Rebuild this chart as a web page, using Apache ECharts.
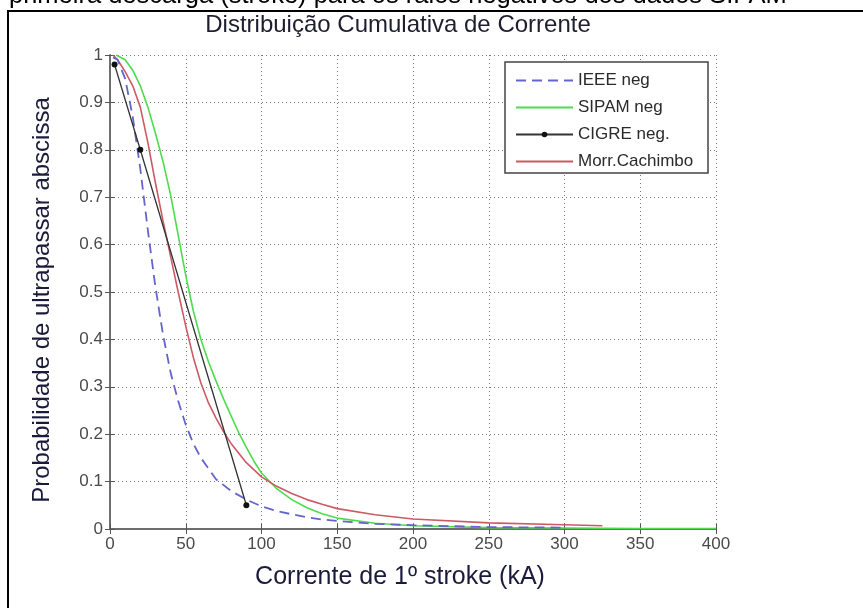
<!DOCTYPE html>
<html>
<head>
<meta charset="utf-8">
<script src="https://cdn.jsdelivr.net/npm/echarts@6/dist/echarts.min.js"></script>
<style>
html,body{margin:0;padding:0;background:#fff;}
#chart{width:863px;height:608px;}
</style>
</head>
<body>
<div id="chart"></div>
<script>
// ---- data ----
const xTicks = [0, 50, 100, 150, 200, 250, 300, 350, 400];
const seriesNames = ['IEEE neg', 'SIPAM neg', 'CIGRE neg.', 'Morr.Cachimbo'];

const ieeeI = [2, 5, 10, 15, 20, 25, 30, 35, 40, 45, 50, 55, 60, 70, 80, 90, 100, 110, 120, 130, 140, 150, 175, 200, 250, 300];
const ieeeP = [0.995, 0.99, 0.95, 0.87, 0.76, 0.63, 0.51, 0.41, 0.33, 0.27, 0.22, 0.18, 0.15, 0.105, 0.08, 0.062, 0.048, 0.038, 0.031, 0.025, 0.02, 0.017, 0.011, 0.008, 0.004, 0.003];

const sipamI = [4, 10, 15, 20, 25, 30, 35, 40, 45, 50, 55, 60, 65, 70, 75, 80, 85, 90, 95, 100, 110, 120, 130, 140, 150, 175, 200, 250, 300, 350, 400];
const sipamP = [1.0, 0.99, 0.968, 0.935, 0.89, 0.835, 0.775, 0.705, 0.62, 0.535, 0.46, 0.4, 0.353, 0.312, 0.274, 0.238, 0.203, 0.172, 0.143, 0.118, 0.085, 0.062, 0.045, 0.032, 0.023, 0.012, 0.007, 0.003, 0.002, 0.001, 0.001];

const cigreI = [3, 20, 90];
const cigreP = [0.98, 0.80, 0.05];

const morrI = [2, 5, 10, 15, 20, 25, 30, 35, 40, 45, 50, 55, 60, 65, 70, 75, 80, 90, 100, 110, 120, 130, 140, 150, 175, 200, 250, 300, 325];
const morrP = [1.0, 0.99, 0.965, 0.935, 0.89, 0.815, 0.73, 0.65, 0.575, 0.5, 0.428, 0.362, 0.308, 0.266, 0.234, 0.205, 0.18, 0.14, 0.11, 0.09, 0.075, 0.062, 0.052, 0.043, 0.03, 0.021, 0.013, 0.009, 0.007];

const pairs = (xs, ys) => xs.map((x, i) => [x, ys[i]]);

const FONT = 'Arial, "Liberation Sans", Helvetica, sans-serif';
const axisCol = '#666';

const chart = echarts.init(document.getElementById('chart'), null, {renderer: 'canvas'});

const boxAxisCommon = {
  axisLine: {show: true, lineStyle: {color: axisCol, width: 1.5}},
  axisTick: {show: true, inside: true, length: 5, lineStyle: {color: '#555', width: 1}},
};

const option = {
  backgroundColor: '#fff',
  animation: false,
  grid: {left: 110, top: 55, width: 606, height: 474, show: false},
  xAxis: [
    Object.assign({
      type: 'value', min: 0, max: 400, interval: 50, position: 'bottom',
      axisLabel: {color: '#4a4a4a', fontSize: 17, fontFamily: FONT, margin: 7},
      splitLine: {show: true, lineStyle: {type: [1, 3], color: '#777', width: 1}}
    }, boxAxisCommon),
    Object.assign({
      type: 'value', min: 0, max: 400, interval: 50, position: 'top',
      axisLabel: {show: false}, splitLine: {show: false}
    }, boxAxisCommon)
  ],
  yAxis: [
    Object.assign({
      type: 'value', min: 0, max: 1, interval: 0.1, position: 'left',
      axisLabel: {color: '#4a4a4a', fontSize: 17, fontFamily: FONT, margin: 7},
      splitLine: {show: true, lineStyle: {type: [1, 3], color: '#777', width: 1}}
    }, boxAxisCommon),
    Object.assign({
      type: 'value', min: 0, max: 1, interval: 0.1, position: 'right',
      axisLabel: {show: false}, splitLine: {show: false}
    }, boxAxisCommon)
  ],
  legend: {
    orient: 'vertical', left: 515, top: 72, padding: 0,
    itemWidth: 57, itemHeight: 7, itemGap: 10, z: 30,
    textStyle: {fontSize: 17, lineHeight: 17, color: '#2a2a2a', fontFamily: FONT},
    itemStyle: {opacity: 0},
    data: [
      {name: seriesNames[0]},
      {name: seriesNames[1]},
      {name: seriesNames[2], itemStyle: {opacity: 1}},
      {name: seriesNames[3]}
    ]
  },
  series: [
    {name: seriesNames[0], type: 'line', data: pairs(ieeeI, ieeeP), symbol: 'none',
     lineStyle: {color: '#6464cc', width: 1.8, type: [10, 6]}, itemStyle: {color: '#6464cc'}, z: 3},
    {name: seriesNames[1], type: 'line', data: pairs(sipamI, sipamP), symbol: 'none',
     lineStyle: {color: '#4cdc4c', width: 1.6}, itemStyle: {color: '#4cdc4c'}, z: 2},
    {name: seriesNames[2], type: 'line', data: pairs(cigreI, cigreP), symbol: 'circle', symbolSize: 6,
     lineStyle: {color: '#333', width: 1.3}, itemStyle: {color: '#111'}, z: 4},
    {name: seriesNames[3], type: 'line', data: pairs(morrI, morrP), symbol: 'none',
     lineStyle: {color: '#cc5a64', width: 1.6}, itemStyle: {color: '#cc5a64'}, z: 2}
  ],
  graphic: [
    // caption cut off at the top
    {type: 'text', left: 9, top: -17, z: 5,
     style: {text: 'primeira descarga (stroke) para os raios negativos dos dados SIPAM', font: '25.5px ' + FONT, fill: '#000'}},
    // outer frame
    {type: 'line', z: 5, shape: {x1: 8, y1: 11, x2: 863, y2: 11}, style: {stroke: '#000', lineWidth: 2}},
    {type: 'line', z: 5, shape: {x1: 8, y1: 10, x2: 8, y2: 608}, style: {stroke: '#000', lineWidth: 2}},
    // chart title
    {type: 'text', x: 398, y: 25, z: 5,
     style: {text: 'Distribuição Cumulativa de Corrente', font: '24px ' + FONT, fill: '#1e1e2e', textAlign: 'center', textVerticalAlign: 'middle'}},
    // axis titles
    {type: 'text', x: 400, y: 577, z: 5,
     style: {text: 'Corrente de 1º stroke (kA)', font: '25px ' + FONT, fill: '#1a1a3a', textAlign: 'center', textVerticalAlign: 'middle'}},
    {type: 'text', x: 42, y: 300, rotation: Math.PI / 2, z: 5,
     style: {text: 'Probabilidade de ultrapassar abscissa', font: '24px ' + FONT, fill: '#1a1a3a', textAlign: 'center', textVerticalAlign: 'middle'}},
    // legend box
    {type: 'rect', z: 20, shape: {x: 505, y: 62, width: 203, height: 111},
     style: {fill: '#fff', stroke: '#444', lineWidth: 1.5}}
  ]
};
chart.setOption(option);
</script>
</body>
</html>
